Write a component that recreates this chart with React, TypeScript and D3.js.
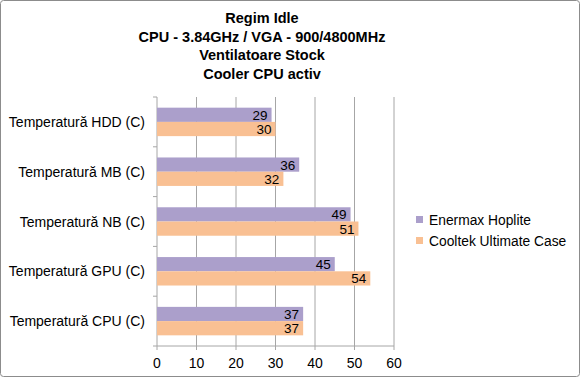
import React from "react";
import * as d3 from "d3";

const categories = [
  "Temperatură HDD (C)",
  "Temperatură MB (C)",
  "Temperatură NB (C)",
  "Temperatură GPU (C)",
  "Temperatură CPU (C)",
];
const seriesNames = ["Enermax Hoplite", "Cooltek Ultimate Case"];
const enermax = [29, 36, 49, 45, 37];
const cooltek = [30, 32, 51, 54, 37];
const xTicks = [0, 10, 20, 30, 40, 50, 60];
const titleLines = [
  "Regim Idle",
  "CPU - 3.84GHz / VGA - 900/4800MHz",
  "Ventilatoare Stock",
  "Cooler CPU activ",
];
const colors = ["#ab9fcb", "#f9c093"];

export default function App() {
  const W = 580;
  const H = 378;
  const left = 157;
  const right = 394;
  const top = 97;
  const bottom = 346;
  const font = "Liberation Sans, Arial, sans-serif";

  const x = d3.scaleLinear().domain([0, 60]).range([left, right]);
  const y = d3.scaleBand<string>().domain(categories).range([top, bottom]);
  const inner = d3
    .scaleBand<number>()
    .domain([0, 1])
    .range([0, y.bandwidth()])
    .paddingOuter(0.75)
    .paddingInner(0);
  const data = [enermax, cooltek];

  return (
    <svg
      width={W}
      height={H}
      style={{ position: "absolute", left: 0, top: 0, background: "#fff" }}
      fontFamily={font}
    >
      <rect x={0.5} y={0.5} width={W - 1} height={H - 2} rx={3} fill="#fff" stroke="#8c8c8c" />
      {titleLines.map((t, i) => (
        <text
          key={i}
          x={262}
          y={18 + i * 18.5}
          textAnchor="middle"
          dominantBaseline="central"
          fontSize={14.5}
          fontWeight="bold"
          fill="#000"
        >
          {t}
        </text>
      ))}
      {xTicks.map((t) => (
        <g key={t}>
          <line x1={x(t)} x2={x(t)} y1={top} y2={bottom} stroke="#a6a6a6" strokeWidth={1} />
          <line x1={x(t)} x2={x(t)} y1={bottom} y2={bottom + 4} stroke="#a6a6a6" />
          <text
            x={x(t)}
            y={363}
            textAnchor="middle"
            dominantBaseline="central"
            fontSize={14}
            fill="#000"
          >
            {t}
          </text>
        </g>
      ))}
      <line x1={left} x2={right} y1={bottom} y2={bottom} stroke="#a6a6a6" />
      {categories.map((c, i) => (
        <line
          key={"tk" + i}
          x1={left - 4}
          x2={left}
          y1={y(c) as number}
          y2={y(c) as number}
          stroke="#a6a6a6"
        />
      ))}
      <line x1={left - 4} x2={left} y1={bottom} y2={bottom} stroke="#a6a6a6" />
      {categories.map((c, ci) => (
        <g key={c}>
          <text
            x={145}
            y={(y(c) as number) + y.bandwidth() / 2}
            textAnchor="end"
            dominantBaseline="central"
            fontSize={14}
            fill="#000"
          >
            {c}
          </text>
          {data.map((vals, si) => {
            const by = (y(c) as number) + (inner(si) as number);
            const bh = inner.bandwidth();
            return (
              <g key={si}>
                <rect x={x(0)} y={by} width={x(vals[ci]) - x(0)} height={bh} fill={colors[si]} />
                <text
                  x={x(vals[ci]) - 4}
                  y={by + bh / 2 + 0.5}
                  textAnchor="end"
                  dominantBaseline="central"
                  fontSize={13.5}
                  fill="#000"
                >
                  {vals[ci]}
                </text>
              </g>
            );
          })}
        </g>
      ))}
      {seriesNames.map((s, i) => (
        <g key={s}>
          <rect x={416} y={216 + i * 21} width={7} height={7} fill={colors[i]} />
          <text
            x={429}
            y={220 + i * 21}
            dominantBaseline="central"
            fontSize={13.8}
            fill="#000"
          >
            {s}
          </text>
        </g>
      ))}
    </svg>
  );
}
